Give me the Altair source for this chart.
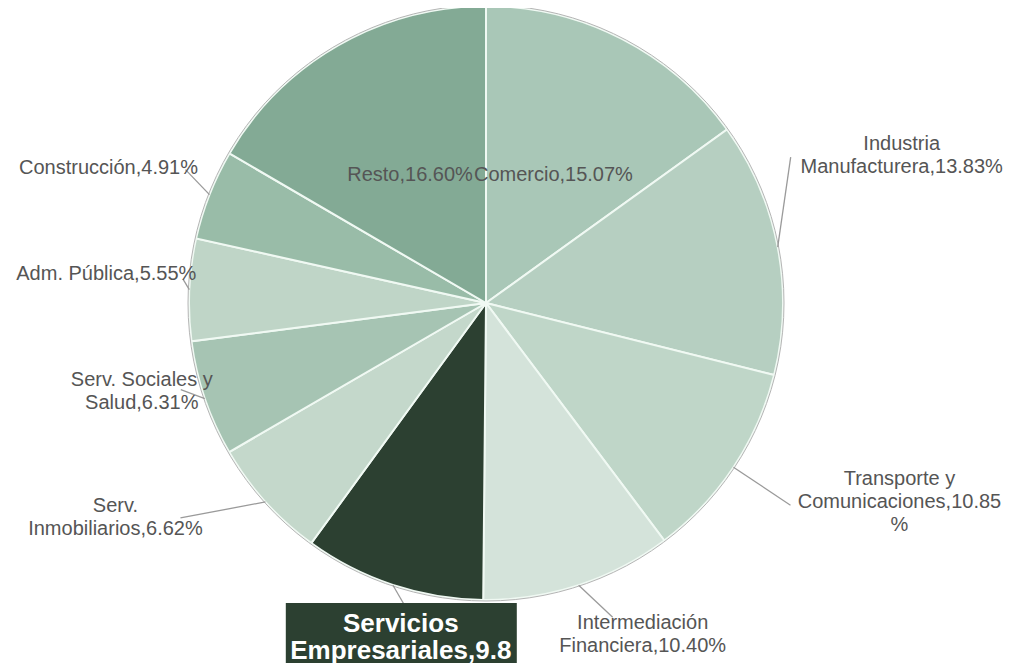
import math
import altair as alt
import pandas as pd

# ---- data ----
categories = [
    "Comercio", "Industria Manufacturera", "Transporte y Comunicaciones",
    "Intermediación Financiera", "Servicios Empresariales", "Serv. Inmobiliarios",
    "Serv. Sociales y Salud", "Adm. Pública", "Construcción", "Resto",
]
shares = [15.07, 13.83, 10.85, 10.40, 9.86, 6.62, 6.31, 5.55, 4.91, 16.60]
label_texts = [
    "Comercio,15.07%",
    "Industria\nManufacturera,13.83%",
    "Transporte y\nComunicaciones,10.85\n%",
    "Intermediación\nFinanciera,10.40%",
    "Servicios\nEmpresariales,9.8",
    "Serv.\nInmobiliarios,6.62%",
    "Serv. Sociales y\nSalud,6.31%",
    "Adm. Pública,5.55%",
    "Construcción,4.91%",
    "Resto,16.60%",
]
highlight = "Servicios Empresariales"

# ---- style / layout ----
colors = ["#a9c7b7", "#b6cfc1", "#bfd6c8", "#d4e3da", "#2c4031",
          "#c4d8cb", "#a6c4b3", "#bfd5c7", "#99bca8", "#83aa95"]
W, H = 995, 655
CX, CY, R = 478, 295, 297
LH, LH_HL = 23, 27
# label block centre offset from the slice's outer mid point, and leader end offset
label_off = {
    "Comercio": (-68, 136, None),
    "Industria Manufacturera": (124, -92, (13, -90)),
    "Transporte y Comunicaciones": (166, 35, (57, 38)),
    "Intermediación Financiera": (64, 49, (34, 32)),
    "Servicios Empresariales": (8, 53, (11, 19)),
    "Serv. Inmobiliarios": (-150, 16, (-85, 16)),
    "Serv. Sociales y Salud": (-63, -7, (-24, -9)),
    "Adm. Pública": (-83, -16, (-6, -10)),
    "Construcción": (-101, -27, (-24, -25)),
    "Resto": (72, 130, None),
}

df = pd.DataFrame({"category": categories, "share": shares,
                   "label": label_texts, "idx": range(len(categories))})
total = df["share"].sum()
df["mid"] = (df["share"].cumsum() - df["share"] / 2) / total * 2 * math.pi
df["ex"] = CX + R * df["mid"].apply(math.sin)
df["ey"] = CY - R * df["mid"].apply(math.cos)
df["nlines"] = df["label"].str.count("\n") + 1
df["lx"] = [ex + label_off[c][0] for ex, c in zip(df["ex"], df["category"])]
df["ly"] = [ey + label_off[c][1] - (n - 1) * (LH_HL if c == highlight else LH) / 2
            for ey, c, n in zip(df["ey"], df["category"], df["nlines"])]

lead = df[[label_off[c][2] is not None for c in df["category"]]].copy()
lead["x2"] = [ex + label_off[c][2][0] for ex, c in zip(lead["ex"], lead["category"])]
lead["y2"] = [ey + label_off[c][2][1] for ey, c in zip(lead["ey"], lead["category"])]

hl = df[df["category"] == highlight].copy()
hl["bx1"] = hl["ex"] - 107
hl["bx2"] = hl["ex"] + 124
hl["by1"] = hl["ey"] + 18
hl["by2"] = hl["ey"] + 100
normal = df[df["category"] != highlight]

pie = alt.Chart(df).mark_arc(radius=R, stroke="#f0f9f3", strokeWidth=2).encode(
    theta=alt.Theta("share:Q", stack=True),
    order=alt.Order("idx:Q"),
    color=alt.Color("category:N", scale=alt.Scale(domain=categories, range=colors), legend=None),
    x=alt.value(CX), y=alt.value(CY),
)

outline = alt.Chart(pd.DataFrame({"a": [0]})).mark_arc(
    radius=R + 1, theta=0, theta2=2 * math.pi, fillOpacity=0,
    stroke="#b5b5b5", strokeWidth=1,
).encode(x=alt.value(CX), y=alt.value(CY))

leaders = alt.Chart(lead).mark_rule(color="#9a9a9a", strokeWidth=1.3).encode(
    x=alt.X("ex:Q", scale=None, axis=None),
    y=alt.Y("ey:Q", scale=None, axis=None),
    x2="x2:Q", y2="y2:Q",
)

box = alt.Chart(hl).mark_rect(color="#2c4031").encode(
    x=alt.X("bx1:Q", scale=None, axis=None),
    x2="bx2:Q",
    y=alt.Y("by1:Q", scale=None, axis=None),
    y2="by2:Q",
)

labels = alt.Chart(normal).mark_text(
    font="Liberation Sans", fontSize=20, color="#555555", lineBreak="\n",
    lineHeight=LH, align="center", baseline="middle",
).encode(
    x=alt.X("lx:Q", scale=None, axis=None),
    y=alt.Y("ly:Q", scale=None, axis=None),
    text="label:N",
)

hl_label = alt.Chart(hl).mark_text(
    font="Liberation Sans", fontSize=26, fontWeight="bold", color="white",
    lineBreak="\n", lineHeight=LH_HL, align="center", baseline="middle",
).encode(
    x=alt.X("lx:Q", scale=None, axis=None),
    y=alt.Y("ly:Q", scale=None, axis=None),
    text="label:N",
)

chart = alt.layer(pie, outline, leaders, box, labels, hl_label).properties(
    width=W, height=H, padding=0,
    autosize=alt.AutoSizeParams(type="none"),
).configure_view(stroke=None)

chart.save("out.html", embed_options={"renderer": "svg", "actions": False})
